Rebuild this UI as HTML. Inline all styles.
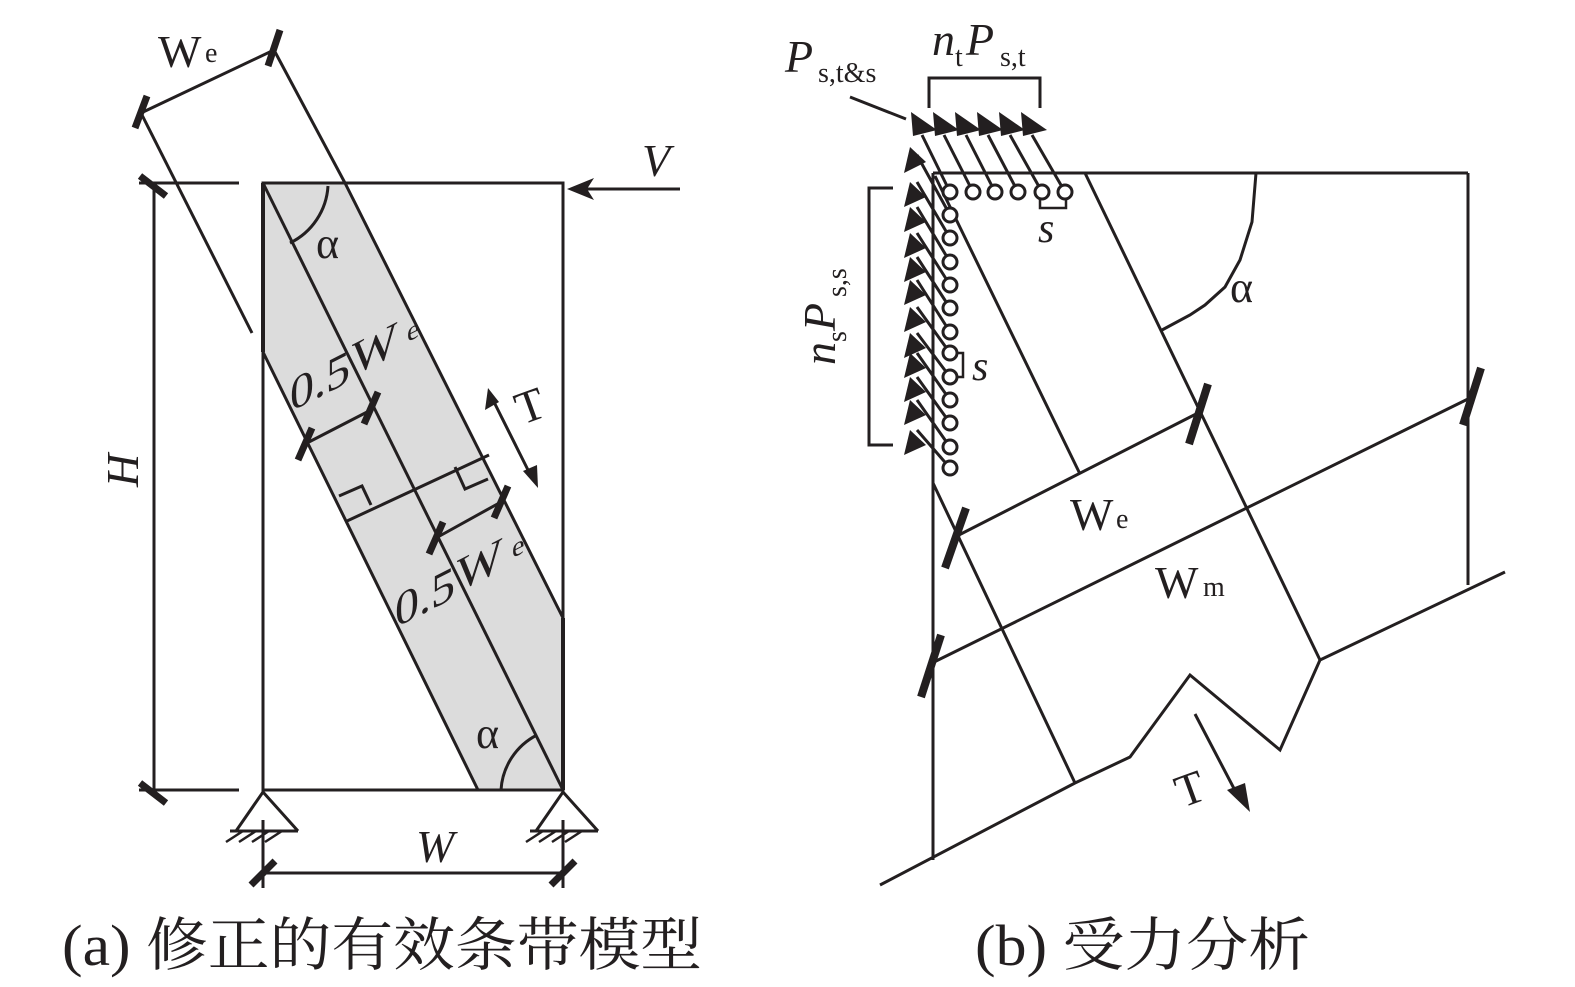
<!DOCTYPE html>
<html><head><meta charset="utf-8"><style>
html,body{margin:0;padding:0;background:#fff;}
svg{display:block;}
text{font-family:"Liberation Serif","Noto Serif CJK SC",serif;fill:#231f20;}
</style></head><body>
<svg width="1575" height="987" viewBox="0 0 1575 987" xmlns="http://www.w3.org/2000/svg">
<g stroke="#231f20" stroke-width="3" fill="none" stroke-linecap="butt">
<polygon points="263,183 345,183 563,618 563,790 478,790 263,352" fill="#dcdcdc" stroke="none"/>
<rect x="263" y="183" width="300" height="607"/>
<line x1="345" y1="183" x2="563" y2="618"/>
<line x1="263" y1="352" x2="478" y2="790"/>
<line x1="263" y1="183" x2="563" y2="790"/>
<line x1="263" y1="183" x2="263" y2="352" stroke-width="4"/>
<line x1="563" y1="618" x2="563" y2="790" stroke-width="4"/>
<line x1="347" y1="521" x2="489" y2="455"/>
<polyline points="339,496 362,486 371,505"/>
<polyline points="455,467 465,489 488,479"/>
<line x1="305" y1="444" x2="371" y2="410"/>
<line x1="436" y1="538" x2="501" y2="502"/>
<g stroke-width="7">
<line x1="298" y1="460" x2="312" y2="428"/>
<line x1="364" y1="424" x2="378" y2="392"/>
<line x1="429" y1="554" x2="443" y2="522"/>
<line x1="494" y1="518" x2="508" y2="486"/>
</g>
<line x1="141" y1="113" x2="274" y2="50"/>
<line x1="141" y1="113" x2="252" y2="333"/>
<line x1="274" y1="50" x2="345" y2="183"/>
<g stroke-width="7">
<line x1="135" y1="128" x2="147" y2="96"/>
<line x1="268" y1="66" x2="280" y2="30"/>
<line x1="140" y1="176" x2="166" y2="196"/>
<line x1="140" y1="783" x2="166" y2="803"/>
<line x1="251" y1="885" x2="275" y2="861"/>
<line x1="551" y1="885" x2="575" y2="861"/>
</g>
<line x1="154" y1="183" x2="154" y2="790"/>
<line x1="139" y1="183" x2="239" y2="183"/>
<line x1="139" y1="790" x2="239" y2="790"/>
<line x1="575" y1="189" x2="680" y2="189"/>
<line x1="492" y1="398" x2="530" y2="474"/>
<path d="M328,186 A68,68 0 0 1 290,243"/>
<path d="M501,790 A66,66 0 0 1 537,735"/>
<polyline points="236,831 263,792 298,831"/>
<line x1="230" y1="831" x2="298" y2="831"/>
<polyline points="536,831 563,792 598,831"/>
<line x1="530" y1="831" x2="598" y2="831"/>
<g stroke-width="2.5">
<line x1="243" y1="831" x2="226" y2="842"/><line x1="256" y1="831" x2="239" y2="842"/><line x1="269" y1="831" x2="252" y2="842"/><line x1="282" y1="831" x2="265" y2="842"/>
<line x1="543" y1="831" x2="526" y2="842"/><line x1="556" y1="831" x2="539" y2="842"/><line x1="569" y1="831" x2="552" y2="842"/><line x1="582" y1="831" x2="565" y2="842"/>
</g>
<line x1="263" y1="820" x2="263" y2="888"/>
<line x1="563" y1="820" x2="563" y2="888"/>
<line x1="263" y1="873" x2="563" y2="873"/>

<line x1="933" y1="173" x2="1468" y2="173"/>
<line x1="1468" y1="173" x2="1468" y2="585"/>
<line x1="933" y1="173" x2="933" y2="860"/>
<line x1="935" y1="176" x2="1080" y2="474"/>
<line x1="1085" y1="173" x2="1320" y2="660"/>
<line x1="933" y1="483" x2="1075" y2="783"/>
<line x1="953" y1="538" x2="1198" y2="413"/>
<line x1="930" y1="664" x2="1472" y2="397"/>
<polyline points="880,885 1075,783 1130,757 1190,675 1280,750 1320,660 1505,572"/>
<g stroke-width="8">
<line x1="945" y1="568" x2="966" y2="508"/>
<line x1="1189" y1="444" x2="1208" y2="384"/>
<line x1="921" y1="697" x2="941" y2="635"/>
<line x1="1463" y1="425" x2="1481" y2="368"/>
</g>
<path d="M1256,173 L1252,222 L1240,260 L1225,287 L1205,305 L1190,315 L1162,330"/>
<line x1="1195" y1="714" x2="1240" y2="800"/>
<polyline points="929,108 929,78 1040,78 1040,108"/>
<polyline points="893,188 869,188 869,445 893,445"/>
<polyline points="1040,199 1040,208 1066,208 1066,199" stroke-width="2.5"/>
<polyline points="956,353 963,353 963,377 956,377" stroke-width="2.5"/>
<line x1="850" y1="97" x2="906" y2="119"/>
</g>
<g fill="#231f20" stroke="none">
<polygon points="567,189 594,178 587,189 594,200"/>
<polygon points="488,388 485,410 499,402"/>
<polygon points="538,488 523,471 537,465"/>
</g>
<g stroke="#231f20" stroke-width="3" fill="#fff">
<line x1="950" y1="192" x2="922" y2="135"/>
<line x1="973" y1="192" x2="944" y2="135"/>
<line x1="995" y1="192" x2="966" y2="135"/>
<line x1="1018" y1="192" x2="988" y2="135"/>
<line x1="1042" y1="192" x2="1010" y2="135"/>
<line x1="1065" y1="192" x2="1032" y2="135"/>
<line x1="950" y1="215" x2="917" y2="155"/>
<line x1="950" y1="238" x2="917" y2="182"/>
<line x1="950" y1="262" x2="917" y2="207"/>
<line x1="950" y1="285" x2="917" y2="233"/>
<line x1="950" y1="308" x2="917" y2="257"/>
<line x1="950" y1="332" x2="917" y2="280"/>
<line x1="950" y1="353" x2="917" y2="307"/>
<line x1="950" y1="377" x2="917" y2="333"/>
<line x1="950" y1="400" x2="917" y2="353"/>
<line x1="950" y1="423" x2="917" y2="377"/>
<line x1="950" y1="447" x2="917" y2="400"/>
<line x1="950" y1="468" x2="917" y2="430"/>
<circle cx="950" cy="192" r="7"/><circle cx="973" cy="192" r="7"/><circle cx="995" cy="192" r="7"/><circle cx="1018" cy="192" r="7"/><circle cx="1042" cy="192" r="7"/><circle cx="1065" cy="192" r="7"/>
<circle cx="950" cy="215" r="7"/><circle cx="950" cy="238" r="7"/><circle cx="950" cy="262" r="7"/><circle cx="950" cy="285" r="7"/><circle cx="950" cy="308" r="7"/><circle cx="950" cy="332" r="7"/><circle cx="950" cy="353" r="7"/><circle cx="950" cy="377" r="7"/><circle cx="950" cy="400" r="7"/><circle cx="950" cy="423" r="7"/><circle cx="950" cy="447" r="7"/><circle cx="950" cy="468" r="7"/>
</g>
<g fill="#231f20">
<polygon points="911,112 937,130 913,136"/>
<polygon points="933,112 959,130 935,136"/>
<polygon points="955,112 981,130 957,136"/>
<polygon points="977,112 1003,130 979,136"/>
<polygon points="999,112 1025,130 1001,136"/>
<polygon points="1021,112 1047,130 1023,136"/>
<polygon points="910,147 904,173 926,162"/>
<polygon points="910,182 904,207 926,197"/>
<polygon points="910,207 904,232 926,222"/>
<polygon points="910,233 904,258 926,248"/>
<polygon points="910,257 904,282 926,272"/>
<polygon points="910,280 904,305 926,295"/>
<polygon points="910,307 904,332 926,322"/>
<polygon points="910,333 904,358 926,348"/>
<polygon points="910,353 904,378 926,368"/>
<polygon points="910,377 904,402 926,392"/>
<polygon points="910,400 904,425 926,415"/>
<polygon points="910,430 904,455 926,445"/>
<polygon points="1250,812 1227,790 1245,783"/>
</g>
<text x="158" y="67" font-size="46">W</text><text x="205" y="62" font-size="28">e</text>
<text x="642" y="176" font-size="46" font-style="italic">V</text>
<text x="316" y="258" font-size="44">α</text>
<text x="476" y="748" font-size="44">α</text>
<text transform="translate(138,487) rotate(-90)" font-size="46" font-style="italic">H</text>
<text x="416" y="862" font-size="46" font-style="italic">W</text>
<text transform="translate(522,425) rotate(-20)" font-size="46">T</text>
<g transform="translate(290,412) skewY(-27)"><text x="0" y="0" font-size="48">0.5</text><text x="62" y="-4" font-size="48">W</text><text x="117" y="-10" font-size="28">e</text></g>
<g transform="translate(395,628) skewY(-27)"><text x="0" y="0" font-size="48">0.5</text><text x="62" y="-4" font-size="48">W</text><text x="117" y="-10" font-size="28">e</text></g>
<text x="785" y="72" font-size="46" font-style="italic">P</text><text x="818" y="82" font-size="28">s,t&amp;s</text>
<text x="932" y="55" font-size="46" font-style="italic">n</text><text x="955" y="66" font-size="28">t</text><text x="966" y="55" font-size="46" font-style="italic">P</text><text x="1000" y="66" font-size="28">s,t</text>
<g transform="translate(835,365) rotate(-90)"><text x="0" y="0" font-size="46" font-style="italic">n</text><text x="23" y="11" font-size="28">s</text><text x="34" y="0" font-size="46" font-style="italic">P</text><text x="68" y="11" font-size="28">s,s</text></g>
<text x="1038" y="242" font-size="42" font-style="italic">s</text>
<text x="972" y="380" font-size="42" font-style="italic">s</text>
<text x="1230" y="302" font-size="44">α</text>
<text x="1070" y="530" font-size="46">W</text><text x="1116" y="528" font-size="28">e</text>
<text x="1155" y="598" font-size="46">W</text><text x="1203" y="596" font-size="28">m</text>
<text transform="translate(1182,808) rotate(-20)" font-size="46">T</text>
<text x="62" y="965" font-size="58" textLength="640" lengthAdjust="spacingAndGlyphs">(a) 修正的有效条带模型</text>
<text x="975" y="965" font-size="58" textLength="335" lengthAdjust="spacingAndGlyphs">(b) 受力分析</text>
</svg>
</body></html>
